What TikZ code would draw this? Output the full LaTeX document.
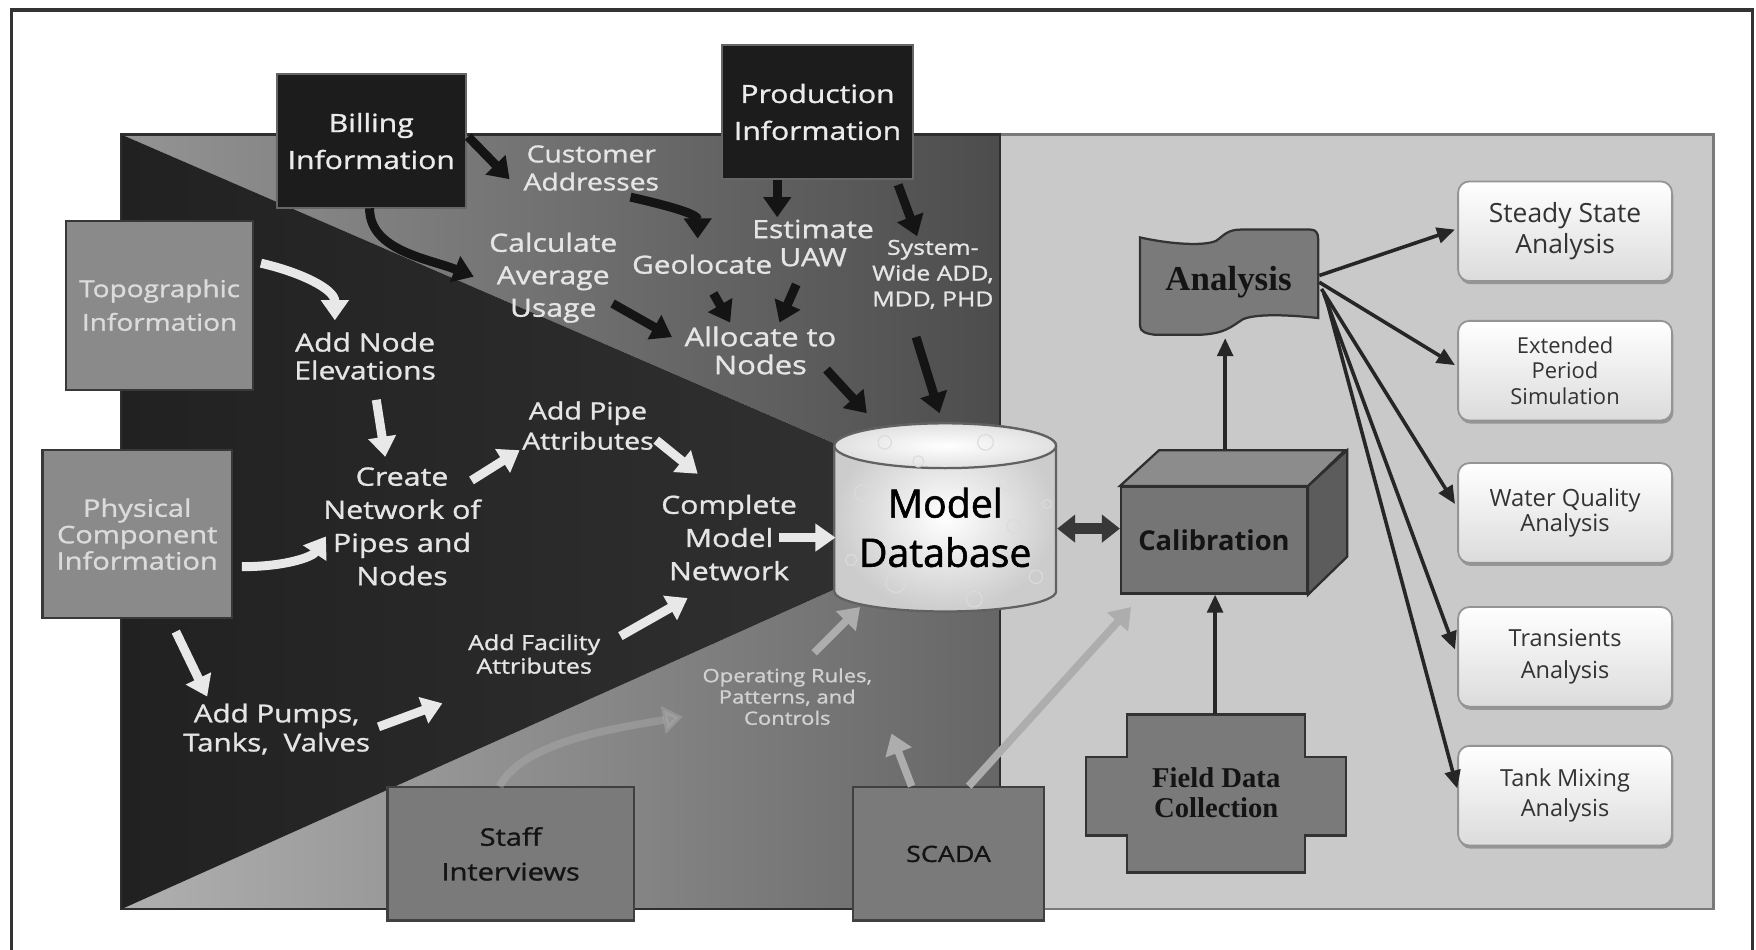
\documentclass[tikz,border=0pt]{standalone}
\usepackage{fontspec}
\setmainfont{Open Sans}
\newfontfamily\lbl[FakeStretch=1.2,FakeBold=1.2]{Open Sans}
\newfontfamily\medf[FakeBold=1.5]{Open Sans}
\newfontfamily\serifb{Liberation Serif}
\usetikzlibrary{arrows.meta,shadows}
\newcommand\setfs[2]{\fontsize{#1pt}{#2pt}\selectfont}

\begin{document}
\begin{tikzpicture}[x=0.5pt,y=-0.5pt,
  lbl/.style={text=white!90!black, align=center, inner sep=0pt},
  darkbox/.style={fill=black!89, draw=black!60, line width=0.8pt, text=white!92!black,
    align=center, minimum width=84.5pt, minimum height=60pt, font=\lbl\setfs{11.2}{16.5}},
  srcbox/.style={fill=black!46, draw=black!78, line width=1pt, text=white!86!black,
    align=center},
  grbox/.style={fill=black!52, draw=black!75, line width=1pt, text=black!92,
    align=center, font=\lbl\setfs{10.8}{15.5}},
  rbox/.style={rounded corners=5pt, top color=white, bottom color=black!14,
    draw=black!42, line width=0.8pt, text=black!80, align=center,
    minimum width=95.5pt, minimum height=44.5pt,
    drop shadow={shadow xshift=0.6pt, shadow yshift=-1.4pt, fill=black!55, opacity=0.6}},
  barrow/.style={line width=4pt, -{Triangle[length=9pt,width=12pt]}},
  blk/.style={barrow, draw=black!92},
  wht/.style={barrow, draw=black!9},
  fnt/.style={barrow, line width=3.4pt, draw=black!32},
  tarrow/.style={draw=black!85, line width=1.6pt, -{Triangle[length=8pt,width=7pt]}},
  dbl/.style={draw=black!78, line width=5pt,
    {Triangle[length=8pt,width=12pt]}-{Triangle[length=8pt,width=12pt]}}
]
\useasboundingbox (0,0) rectangle (1568,848);
\fill[white] (0,0) rectangle (1568,848);

% outer frame
\draw[line width=1.5pt, black!80] (10.5,848) -- (10.5,9) -- (1565,9) -- (1565,848);

% right (analysis) panel
\draw[fill=black!21, draw=black!52, line width=1pt] (893,120) rectangle (1530,812);

% left (model building) panel: three shaded regions
\shade[left color=black!42, right color=black!70] (108,120) -- (893,120) -- (893,460) -- cycle;
\shade[left color=black!31, right color=black!60] (108,812) -- (893,812) -- (893,460) -- cycle;
\shade[left color=black!87, right color=black!80] (108,120) -- (893,460) -- (108,812) -- cycle;
\draw[black!82, line width=1pt] (108,812) -- (108,120) -- (893,120) -- (893,812) -- cycle;

% data source boxes
\node[darkbox] (bill) at (331.5,126) {Billing\\Information};
\node[darkbox, minimum width=85pt] (prod) at (730,100) {Production\\Information};
\node[srcbox, minimum width=83.5pt, minimum height=75.5pt, font=\lbl\setfs{10.4}{15}]
  (topo) at (142.5,272.5) {Topographic\\Information};
\node[srcbox, minimum width=84.5pt, minimum height=75pt, font=\lbl\setfs{10.8}{11.8}]
  (phys) at (122.5,477) {Physical\\Component\\Information};
\node[grbox, minimum width=110pt, minimum height=59.5pt] (staff) at (456,762.5) {Staff\\Interviews};
\node[grbox, minimum width=85pt, minimum height=59.5pt, font=\lbl\setfs{10}{12}] (scada) at (847,762.5) {SCADA};

% step labels
\node[lbl, font=\lbl\setfs{10.5}{12.5}] (cust) at (528,150) {Customer\\Addresses};
\node[lbl, font=\lbl\setfs{11.2}{14.5}] (calc) at (494,248) {Calculate\\Average\\Usage};
\node[lbl, font=\lbl\setfs{11.1}{13}] (geo) at (627,236) {Geolocate};
\node[lbl, font=\lbl\setfs{11.2}{12.5}] (est) at (726,217) {Estimate\\UAW};
\node[lbl, font=\lbl\setfs{9.2}{11.5}] (sys) at (833,245) {System-\\Wide ADD,\\MDD, PHD};
\node[lbl, font=\lbl\setfs{11.5}{12.5}] (alloc) at (679,313) {Allocate to\\Nodes};
\node[lbl, font=\lbl\setfs{11.2}{12.5}] (addnode) at (326,318) {Add Node\\Elevations};
\node[lbl, font=\lbl\setfs{10.6}{13.5}] (addpipe) at (525,380) {Add Pipe\\Attributes};
\node[lbl, font=\lbl\setfs{11.3}{14.8}] (create) at (359,470) {Create\\Network of\\Pipes and\\Nodes};
\node[lbl, font=\lbl\setfs{11.2}{14.8}] (complete) at (651,480) {Complete\\Model\\Network};
\node[lbl, font=\lbl\setfs{9.3}{10.5}] (facility) at (477,584) {Add Facility\\Attributes};
\node[lbl, font=\lbl\setfs{11}{13}] (pumps) at (247,651) {Add Pumps,\\Tanks,\hspace{0.3em} Valves};
\node[lbl, font=\lbl\setfs{8.2}{9.5}, text=white!82!black] (oprules) at (703,622) {Operating Rules,\\Patterns, and\\Controls};

% model database cylinder
\shade[inner color=white, outer color=black!20, draw=black!62, line width=1pt]
  (745,398) -- (745,528) arc[start angle=180, end angle=0, x radius=99, y radius=18]
  -- (943,398) arc[start angle=0, end angle=-180, x radius=99, y radius=20] -- cycle;
\shade[inner color=white, outer color=black!12, draw=black!62, line width=1pt]
  (844,398) ellipse[x radius=99, y radius=20];
\foreach \px/\py/\pr in {770/440/7, 800/520/9, 900/430/8, 925/515/6, 870/535/7, 760/500/5,
  820/412/5, 905/470/6, 790/395/6, 880/395/7, 935/450/4}
  \draw[black!14, line width=0.5pt] (\px,\py) circle[radius=\pr];
\node[font=\medf\setfs{17.5}{22}, text=black, align=center, inner sep=0pt] (db) at (844,471) {Model\\Database};

% calibration block
\node[fill=black!54, draw=black!82, line width=1pt, minimum width=83pt, minimum height=47.5pt,
  font=\bfseries\setfs{12.2}{14}, text=black!92] (cal) at (1084,482.5) {Calibration};
\filldraw[fill=black!45, draw=black!82, line width=1pt]
  (cal.north west) -- ++(35,-32) -- ++(166,0) -- (cal.north east) -- cycle;
\filldraw[fill=black!64, draw=black!82, line width=1pt]
  (cal.north east) -- ++(35,-32) -- ++(0,95) -- (cal.south east) -- cycle;

% analysis banner
\filldraw[fill=black!52, draw=black!80, line width=1pt]
  (1018,212) .. controls (1045,218) and (1075,220) .. (1086,215)
  .. controls (1093,210) and (1096,205) .. (1108,205) -- (1170,205)
  .. controls (1175,205) and (1177,208) .. (1177,213) -- (1177,284)
  .. controls (1150,281) and (1122,280) .. (1110,285)
  .. controls (1100,291) and (1095,298) .. (1070,299) -- (1032,299)
  .. controls (1023,298) and (1018,296) .. (1018,291) -- cycle;
\node[font=\serifb\bfseries\setfs{15.6}{18}, text=black!92] (ana) at (1097,252) {Analysis};

% field data collection cross
\filldraw[fill=black!52, draw=black!80, line width=1pt]
  (1006,638) -- (1165,638) -- (1165,676) -- (1202,676) -- (1202,746) -- (1165,746)
  -- (1165,779) -- (1006,779) -- (1006,746) -- (970,746) -- (970,676) -- (1006,676) -- cycle;
\node[font=\serifb\bfseries\setfs{12.8}{13.2}, align=center, text=black!92] (fdc) at (1086,708) {Field Data\\Collection};

% analysis result boxes
\node[rbox, font=\setfs{11.8}{14}] (ss) at (1397.5,206.5) {Steady State\\Analysis};
\node[rbox, font=\setfs{9.8}{11.3}] (ep) at (1397.5,331) {Extended\\Period\\Simulation};
\node[rbox, font=\setfs{10.6}{11}] (wq) at (1397.5,458) {Water Quality\\Analysis};
\node[rbox, font=\setfs{10.5}{14}] (tr) at (1397.5,586.5) {Transients\\Analysis};
\node[rbox, font=\setfs{10.5}{13.5}] (tm) at (1397.5,710.5) {Tank Mixing\\Analysis};

% black flows (demand side)
\draw[blk] ([shift={(86.5,-4)}]bill.center) -- ([shift={(-73,10)}]cust.center);
\draw[blk] ([shift={(-1.5,60)}]bill.center) .. controls +(0,38) and +(-40,-16) .. ([shift={(-71,-1)}]calc.center);
\draw[blk] ([shift={(35,26)}]cust.center) .. controls +(35,8) and +(0,-22) .. ([shift={(-4,-23)}]geo.center);
\draw[blk] ([shift={(-36,61)}]prod.center) -- ([shift={(-32,-23)}]est.center);
\draw[blk] ([shift={(72,65)}]prod.center) -- ([shift={(-14,-34)}]sys.center);
\draw[blk] ([shift={(10,26)}]geo.center) -- ([shift={(-27,-25)}]alloc.center);
\draw[blk] ([shift={(-15,37)}]est.center) -- ([shift={(17,-25)}]alloc.center);
\draw[blk] ([shift={(53,23)}]calc.center) -- ([shift={(-79,-12)}]alloc.center);
\draw[blk] ([shift={(59,17)}]alloc.center) -- ([shift={(-70,-102)}]db.center);
\draw[blk] ([shift={(-15,56)}]sys.center) -- ([shift={(-5,-102)}]db.center);

% white flows (network side)
\draw[wht] ([shift={(90.5,-37.5)}]topo.center) .. controls +(35,8) and +(0,-28) .. ([shift={(-27,-32)}]addnode.center);
\draw[wht] ([shift={(10,39)}]addnode.center) -- ([shift={(-15,-62)}]create.center);
\draw[wht] ([shift={(62,-41)}]create.center) -- ([shift={(-61,22)}]addpipe.center);
\draw[wht] ([shift={(61,13)}]addpipe.center) -- ([shift={(-28,-57)}]complete.center);
\draw[wht] ([shift={(93.5,29)}]phys.center) .. controls +(40,0) and +(-12,18) .. ([shift={(-68,9)}]create.center);
\draw[wht] ([shift={(45,0)}]complete.center) -- ([shift={(-98,9)}]db.center);
\draw[wht] ([shift={(34.5,87)}]phys.center) -- ([shift={(-62,-29)}]pumps.center);
\draw[wht] ([shift={(91,-2)}]pumps.center) -- ([shift={(-82,44)}]facility.center);
\draw[wht] ([shift={(77,-16)}]facility.center) -- ([shift={(-37,54)}]complete.center);

% light flows (operations side)
\draw[fnt, opacity=0.45] ([shift={(-10,-60)}]staff.center) .. controls +(20,-40) and +(-60,10) .. ([shift={(-93,18)}]oprules.center);
\draw[fnt] ([shift={(24,-39)}]oprules.center) -- ([shift={(-76,71)}]db.center);
\draw[fnt] ([shift={(-33,-60.5)}]scada.center) -- ([shift={(93,33)}]oprules.center);
\draw[fnt] ([shift={(18,-60.5)}]scada.center) -- ([shift={(-74,59.5)}]cal.center);

% calibration and analysis links
\draw[dbl] ([shift={(100,1)}]db.center) -- ([shift={(-84,-10.5)}]cal.center);
\draw[tarrow] ([shift={(10,-81.5)}]cal.center) -- ([shift={(-3,50)}]ana.center);
\draw[tarrow] ([shift={(-1,-70.5)}]fdc.center) -- ([shift={(1,48.5)}]cal.center);
\draw[tarrow] ([shift={(81,-6)}]ana.center) -- ([shift={(-2,-1.5)}]ss.west);
\draw[tarrow] ([shift={(81,0)}]ana.center) -- ([shift={(-2,-5)}]ep.west);
\draw[tarrow] ([shift={(83,6)}]ana.center) -- ([shift={(-2,-8)}]wq.west);
\draw[tarrow] ([shift={(85,10)}]ana.center) -- ([shift={(-2,-6.5)}]tr.west);
\draw[tarrow] ([shift={(87,14)}]ana.center) -- ([shift={(0,-6.5)}]tm.west);
\end{tikzpicture}
\end{document}
